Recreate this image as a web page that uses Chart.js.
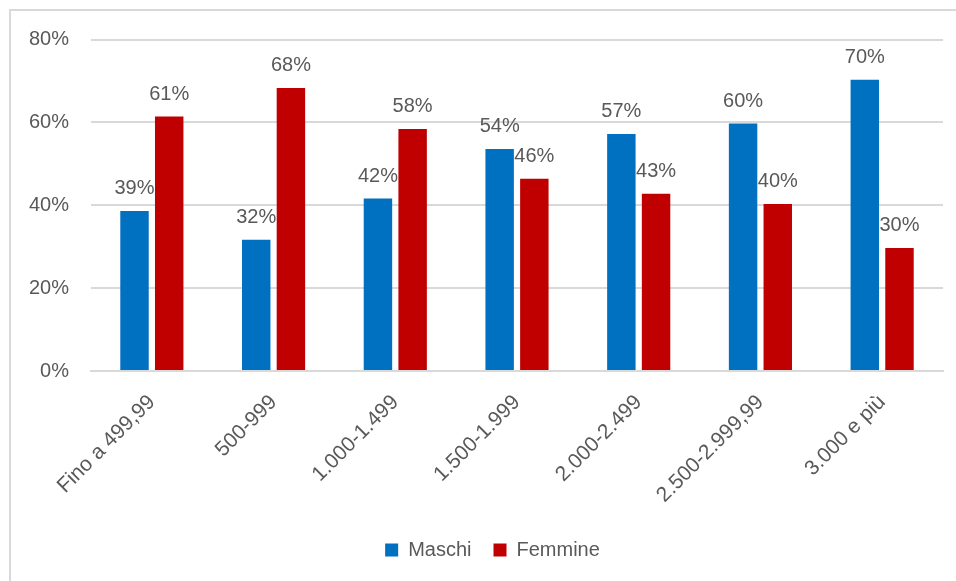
<!DOCTYPE html>
<html>
<head>
<meta charset="utf-8">
<script src="https://cdn.jsdelivr.net/npm/chart.js@4.4.1/dist/chart.umd.min.js"></script>
<style>
  html, body { margin: 0; padding: 0; background: #ffffff; }
  #wrap { position: relative; width: 956px; height: 581px; overflow: hidden; }
  #frame { position: absolute; left: 9px; top: 9px; width: 960px; height: 600px;
           border-top: 2px solid #d9d9d9; border-left: 2px solid #d9d9d9; box-sizing: border-box; }
  canvas { position: absolute; left: 0; top: 0; }
</style>
</head>
<body>
<div id="wrap">
  <div id="frame"></div>
  <canvas id="c" width="956" height="581"></canvas>
</div>
<script>
const categories = ["Fino a 499,99", "500-999", "1.000-1.499", "1.500-1.999", "2.000-2.499", "2.500-2.999,99", "3.000 e più"];
const maschi = [38.6, 31.7, 41.6, 53.6, 57.2, 59.7, 70.3];
const femmine = [61.4, 68.3, 58.4, 46.4, 42.8, 40.3, 29.7];
const yTicks = [0, 20, 40, 60, 80];

const FONT = "'Liberation Sans', Arial, sans-serif";
const TEXT = '#595959';

const dataLabels = {
  id: 'dataLabels',
  afterDatasetsDraw(chart) {
    const ctx = chart.ctx;
    ctx.save();
    ctx.font = '20px ' + FONT;
    ctx.fillStyle = TEXT;
    ctx.textAlign = 'center';
    ctx.textBaseline = 'alphabetic';
    chart.data.datasets.forEach((ds, di) => {
      const meta = chart.getDatasetMeta(di);
      meta.data.forEach((el, i) => {
        ctx.fillText(Math.round(ds.data[i]) + '%', el.x, el.y - 17);
      });
    });
    ctx.restore();
  }
};

const legendShift = {
  id: 'legendShift',
  afterLayout(chart) {
    if (chart.legend) {
      chart.legend.left += 16;
      chart.legend.right += 16;
    }
  }
};

new Chart(document.getElementById('c'), {
  type: 'bar',
  data: {
    labels: categories,
    datasets: [
      { label: 'Maschi', data: maschi, backgroundColor: '#0070C0', borderWidth: 0,
        categoryPercentage: 0.57, barPercentage: 0.82 },
      { label: 'Femmine', data: femmine, backgroundColor: '#C00000', borderWidth: 0,
        categoryPercentage: 0.57, barPercentage: 0.82 }
    ]
  },
  options: {
    responsive: false,
    animation: false,
    devicePixelRatio: 1,
    layout: { padding: { top: 39.5, left: 10, right: 13, bottom: 11 } },
    plugins: {
      tooltip: { enabled: false },
      legend: {
        position: 'bottom',
        labels: {
          font: { family: FONT, size: 20 },
          color: TEXT,
          boxWidth: 13,
          boxHeight: 13,
          padding: 22
        }
      }
    },
    scales: {
      x: {
        grid: { display: false },
        border: { display: true, color: '#d9d9d9', width: 2 },
        ticks: {
          font: { family: FONT, size: 21 },
          color: TEXT,
          minRotation: 45,
          maxRotation: 45,
          padding: 11
        },
        afterFit(scale) { scale.height = 147; }
      },
      y: {
        min: 0,
        max: 80,
        afterBuildTicks(scale) { scale.ticks = yTicks.map(v => ({ value: v })); },
        grid: { color: '#d9d9d9', lineWidth: 2, drawTicks: false },
        border: { display: false },
        ticks: {
          font: { family: FONT, size: 20 },
          color: TEXT,
          padding: 22,
          callback: v => v + '%'
        },
        afterFit(scale) { scale.width = 81; }
      }
    }
  },
  plugins: [dataLabels, legendShift]
});
</script>
</body>
</html>
